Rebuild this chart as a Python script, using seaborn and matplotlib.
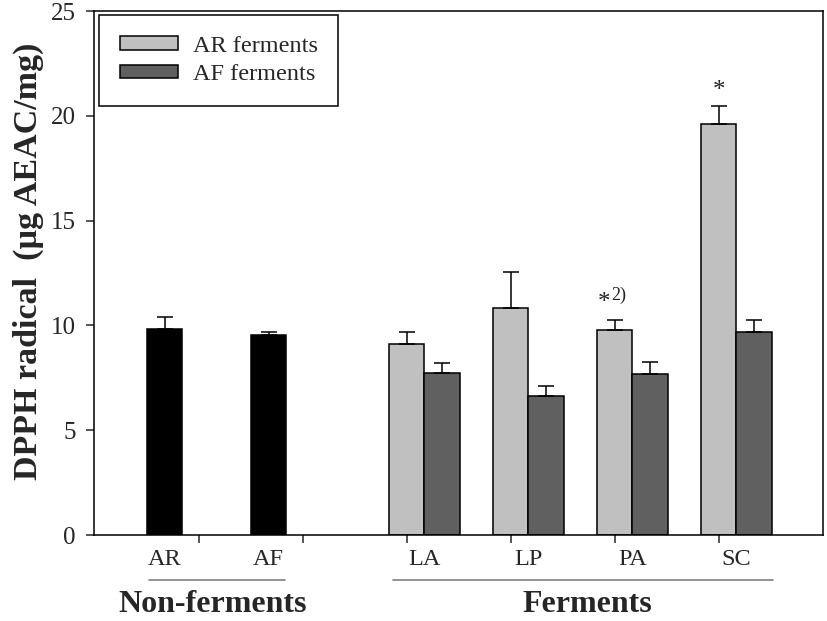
import matplotlib
matplotlib.use("Agg")
import matplotlib.pyplot as plt
import matplotlib.transforms as mtransforms
from matplotlib.patches import Patch
import numpy as np
import pandas as pd
import seaborn as sns

# ---------------- data ----------------
non_labels = ["AR", "AF"]
non_values = [9.85, 9.55]
non_errors = [0.55, 0.12]

ferm_labels = ["LA", "LP", "PA", "SC"]
series_names = ["AR ferments", "AF ferments"]
ar_ferm_values = [9.1, 10.85, 9.8, 19.6]
ar_ferm_errors = [0.58, 1.72, 0.48, 0.86]
af_ferm_values = [7.73, 6.63, 7.68, 9.7]
af_ferm_errors = [0.48, 0.48, 0.57, 0.57]

group_names = ["Non-ferments", "Ferments"]
yticks = [0, 5, 10, 15, 20, 25]

# ---------------- layout ----------------
non_pos = [0.0, 1.0]
ferm_pos = [2.5, 3.5, 4.5, 5.5]
bar_w = 0.337

sns.set_style("ticks")
plt.rcParams["font.family"] = ["Liberation Serif", "DejaVu Serif"]

fig = plt.figure(figsize=(8.27, 6.21), dpi=100)
ax = fig.add_axes([94 / 827, 1 - 535 / 621, (823 - 94) / 827, (535 - 11) / 621])

df_non = pd.DataFrame({"pos": non_pos, "value": non_values})
df_ferm = pd.DataFrame({
    "pos": ferm_pos * 2,
    "value": ar_ferm_values + af_ferm_values,
    "series": [series_names[0]] * 4 + [series_names[1]] * 4,
})

colors = {"AR ferments": "#c0c0c0", "AF ferments": "#606060"}

sns.barplot(data=df_non, x="pos", y="value", native_scale=True, color="black",
            width=bar_w, errorbar=None, edgecolor="black", linewidth=1.1,
            saturation=1, ax=ax)
sns.barplot(data=df_ferm, x="pos", y="value", hue="series", hue_order=series_names,
            palette=colors, native_scale=True, width=2 * bar_w, errorbar=None,
            edgecolor="black", linewidth=1.1, saturation=1, legend=False, ax=ax)

# error bars (upper only) at the bar positions seaborn drew
err_sets = [non_errors, ar_ferm_errors, af_ferm_errors]
bar_tops = {}
for ci, (cont, errs) in enumerate(zip(ax.containers, err_sets)):
    xs = [p.get_x() + p.get_width() / 2 for p in cont.patches]
    ys = [p.get_height() for p in cont.patches]
    ax.errorbar(xs, ys, yerr=[np.zeros(len(errs)), errs], fmt="none",
                ecolor="black", elinewidth=1.1, capsize=6, capthick=1.1, zorder=1)
    bar_tops[ci] = [(x, y + e) for x, y, e in zip(xs, ys, errs)]

# significance marks
x_pa, t_pa = bar_tops[1][2]
ax.annotate("*", xy=(x_pa, t_pa), xytext=(-8, 4), textcoords="offset points",
            ha="center", va="bottom", fontsize=18, color="#222222")
ax.annotate("2)", xy=(x_pa, t_pa), xytext=(-3, 11), textcoords="offset points",
            ha="left", va="bottom", fontsize=13, color="#222222")
x_sc, t_sc = bar_tops[1][3]
ax.annotate("*", xy=(x_sc, t_sc), xytext=(0, 3), textcoords="offset points",
            ha="center", va="bottom", fontsize=18, color="#222222")

# axes
ax.set_xlim(-0.678, 6.332)
ax.set_ylim(0, 25)
ax.set_yticks(yticks)
ax.set_yticklabels([str(v) for v in yticks])
ax.set_xticks(non_pos + ferm_pos)
ax.set_xticklabels(non_labels + ferm_labels)
ax.set_xticks([0.33, 1.33, 2.33, 3.33, 4.33, 5.33], minor=True)
ax.tick_params(axis="x", which="major", length=0, pad=10, labelsize=17.5)
ax.tick_params(axis="x", which="minor", length=6, width=1.1, direction="out")
ax.tick_params(axis="y", which="major", length=6, width=1.1, direction="out",
               pad=7, labelsize=18)
ax.set_xlabel("")
for s in ax.spines.values():
    s.set_visible(True)
    s.set_linewidth(1.1)
    s.set_color("black")

ax.set_ylabel("DPPH radical  (\u00b5g AEAC/mg)", fontsize=24.5, fontweight="bold")
ax.yaxis.set_label_coords(-0.09, 0.523)
ax.yaxis.label.set_va("center")

# group underlines and labels
trans = mtransforms.blended_transform_factory(ax.transData, ax.transAxes)
ax.plot([-0.149, 1.159], [-0.086, -0.086], transform=trans, color="#808080",
        lw=1.2, clip_on=False)
ax.plot([2.197, 5.851], [-0.086, -0.086], transform=trans, color="#808080",
        lw=1.2, clip_on=False)
ax.text(0.46, -0.133, group_names[0], transform=trans, ha="center", va="center",
        fontsize=23, fontweight="bold")
ax.text(4.07, -0.133, group_names[1], transform=trans, ha="center", va="center",
        fontsize=23, fontweight="bold")

handles = [Patch(facecolor=colors[n], edgecolor="black", linewidth=1.1, label=n)
           for n in series_names]
leg = ax.legend(handles=handles, loc="upper left", bbox_to_anchor=(0.0069, 0.992),
                borderaxespad=0, fancybox=False, frameon=True, edgecolor="black",
                fontsize=17.5, handlelength=2.4, handleheight=0.5, handletextpad=0.6,
                borderpad=0.85, labelspacing=0.3, framealpha=1)
leg.get_frame().set_linewidth(1.1)

fig.savefig("out.png", dpi=100)
